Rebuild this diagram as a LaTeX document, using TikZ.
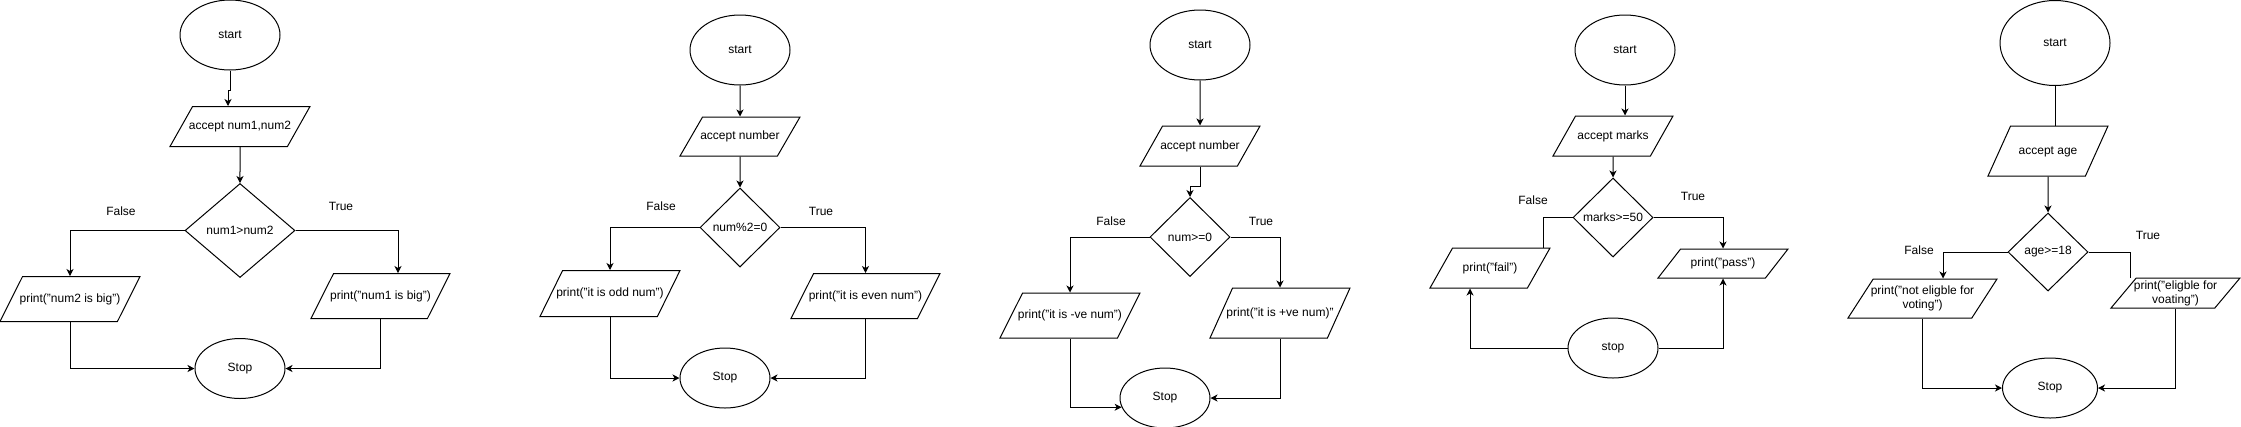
\documentclass[tikz,border=0pt]{standalone}
\usepackage{fontspec}
\setmainfont{Liberation Sans}
\usetikzlibrary{shapes,%
                arrows.meta,%
                positioning}
\tikzset{terminal/.style={
			  ellipse,
			  draw            = black,
			  minimum width   = 100pt,
			  minimum height  = 70pt,
			  inner sep       = 0pt,
			  text centered
			}}
\tikzset{stopbox/.style={
			  terminal,
			  minimum width   = 90pt,
			  minimum height  = 60pt
			}}
\tikzset{inout/.style={
			  trapezium,
			  trapezium left angle  = 28,
			  trapezium right angle = 152,
			  trapezium stretches body = true,
			  draw            = black,
			  inner ysep      = 0pt,
			  inner xsep      = -25pt,
			  text height     = 9pt,
			  text depth      = 3pt,
			  text centered
			}}
\tikzset{inouttwo/.style={
			  trapezium,
			  trapezium left angle  = 45,
			  trapezium right angle = 135,
			  trapezium stretches body = true,
			  draw            = black,
			  inner ysep      = 0pt,
			  inner xsep      = -25pt,
			  align           = center
			}}
\tikzset{decision/.style={
			  diamond,
			  draw            = black,
			  minimum width   = 80pt,
			  minimum height  = 79pt,
			  inner sep       = 0pt,
			  text centered
			}}
\tikzset{answer/.style={
			  inner sep       = 0pt
			}}
\begin{document}
\begin{tikzpicture}[x=1pt, y=1pt, >={Stealth[length=7pt, width=7pt, inset=2pt]}, line width=1pt, font=\fontsize{12}{14}\selectfont]
    \useasboundingbox (0,0) rectangle (2241,-426);

    % bigger of two numbers
    \node (start1) [terminal] at (230,-35)                                     {start};
    \node (acc1)   [inout, minimum width=140pt, minimum height=40pt, below=35.5pt of start1, xshift=10pt] {accept num1,num2};
    \node (dia1)   [decision, minimum width=110pt, minimum height=94pt, below=36pt of acc1] {num1>num2};
    \node (no1)    [inout, minimum width=140pt, minimum height=45pt, below=-2pt of dia1, xshift=-170pt]   {print("num2 is big")};
    \node (yes1)   [inout, minimum width=139pt, minimum height=45pt, below=-5pt of dia1, xshift=140.5pt]  {print("num1 is big")};
    \node (stop1)  [stopbox, below=60pt of dia1]                               {Stop};
    \node (f1)     [answer] at (121,-211)                                      {False};
    \node (t1)     [answer] at (341,-206)                                      {True};

    \draw [->] (start1.south) -- ++(0,-20) -| ([xshift=-12pt]acc1.north);
    \draw [->] (acc1)        to (dia1);
    \draw [->] (dia1.west)   -| (no1.north);
    \draw [->] (dia1.east)   -| ([xshift=17.5pt]yes1.north);
    \draw [->] (no1.south)   |- (stop1.west);
    \draw [->] (yes1.south)  |- (stop1.east);

    % odd or even
    \node (start2) [terminal] at (740,-50)                                     {start};
    \node (acc2)   [inout, minimum width=120pt, minimum height=39pt, below=31pt of start2] {accept number};
    \node (dia2)   [decision, below=31pt of acc2]                              {num\%2=0};
    \node (no2)    [inout, minimum width=140pt, minimum height=46pt, below=2.5pt of dia2, xshift=-130pt]  {print("it is odd num")};
    \node (yes2)   [inout, minimum width=149pt, minimum height=45pt, below=5.5pt of dia2, xshift=125.5pt] {print("it is even num")};
    \node (stop2)  [stopbox, below=80pt of dia2, xshift=-15pt]                 {Stop};
    \node (f2)     [answer] at (661,-206)                                      {False};
    \node (t2)     [answer] at (821,-211)                                      {True};

    \draw [->] (start2)      to (acc2);
    \draw [->] (acc2)        to (dia2);
    \draw [->] (dia2.west)   -| (no2.north);
    \draw [->] (dia2.east)   -| (yes2.north);
    \draw [->] (no2.south)   |- (stop2.west);
    \draw [->] (yes2.south)  |- (stop2.east);

    % positive or negative
    \node (start3) [terminal] at (1200,-45)                                    {start};
    \node (acc3)   [inout, minimum width=120pt, minimum height=40pt, below=45pt of start3] {accept number};
    \node (dia3)   [decision, below=30.5pt of acc3, xshift=-10pt]              {num>=0};
    \node (no3)    [inout, minimum width=140pt, minimum height=45pt, below=15.5pt of dia3, xshift=-120pt] {print("it is -ve num")};
    \node (yes3)   [inout, minimum width=140pt, minimum height=50pt, below=10.5pt of dia3, xshift=90pt]   {print("it is +ve num)"};
    \node (stop3)  [stopbox, below=90.5pt of dia3, xshift=-25pt]               {Stop};
    \node (f3)     [answer] at (1111,-221)                                     {False};
    \node (t3)     [answer] at (1261,-221)                                     {True};

    \draw [->] (start3)      to (acc3);
    \draw [->] (acc3.south)  -- ++(0,-20) -| (dia3.north);
    \draw [->] (dia3.west)   -| (no3.north);
    \draw [->] (dia3.east)   -| (yes3.north);
    \draw [->] (no3.south)   |- (stop3.192);
    \draw [->] (yes3.south)  |- (stop3.east);

    % pass or fail
    \node (start4) [terminal] at (1625,-50)                                    {start};
    \node (acc4)   [inout, minimum width=120pt, minimum height=40pt, below=30pt of start4, xshift=-12pt] {accept marks};
    \node (dia4)   [decision, below=21pt of acc4]                              {marks>=50};
    \node (no4)    [inout, minimum width=120pt, minimum height=40pt, below=-10pt of dia4, xshift=-123pt] {print("fail")};
    \node (yes4)   [inout, minimum width=130pt, minimum height=29pt, below=-9pt of dia4, xshift=110pt]   {print("pass")};
    \node (stop4)  [stopbox, below=60pt of dia4]                               {stop};
    \node (f4)     [answer] at (1533,-200)                                     {False};
    \node (t4)     [answer] at (1693,-196)                                     {True};

    \draw [->] (start4.south) -- (start4.south |- acc4.north);
    \draw [->] (acc4)        to (dia4);
    \draw      (dia4.west)   -| ([xshift=53pt]no4.north);
    \draw [->] (dia4.east)   -| (yes4.north);
    \draw [->] (stop4.west)  -| ([xshift=-20pt]no4.south);
    \draw [->] (stop4.east)  -| (yes4.south);

    % voting age
    \node (start5) [terminal, minimum width=110pt, minimum height=85pt] at (2055,-43) {start};
    \node (acc5)   [inout, minimum width=120pt, minimum height=50pt, below=39.5pt of start5, xshift=-7pt] {accept age};
    \node (dia5)   [decision, minimum height=78pt, below=36pt of acc5]         {age>=18};
    \node (no5)    [inouttwo, minimum width=149pt, minimum height=39pt, below=-13pt of dia5, xshift=-125.5pt] {print("not eligble for\\voting")};
    \node (yes5)   [inouttwo, minimum width=129pt, minimum height=30pt, below=-14pt of dia5, xshift=127.5pt]  {print("eligble for\\voating")};
    \node (stop5)  [stopbox, minimum width=95pt, below=66pt of dia5, xshift=2pt] {Stop};
    \node (f5)     [answer] at (1919,-250)                                     {False};
    \node (t5)     [answer] at (2148,-235)                                     {True};

    \draw      (start5.south) -- (start5.south |- acc5.north);
    \draw [->] (acc5)        to (dia5);
    \draw [->] (dia5.west)   -| ([xshift=20.5pt]no5.north);
    \draw      (dia5.east)   -| ([xshift=-45.5pt]yes5.north);
    \draw [->] (no5.south)   |- (stop5.west);
    \draw [->] (yes5.south)  |- (stop5.east);

\end{tikzpicture}
\end{document}
